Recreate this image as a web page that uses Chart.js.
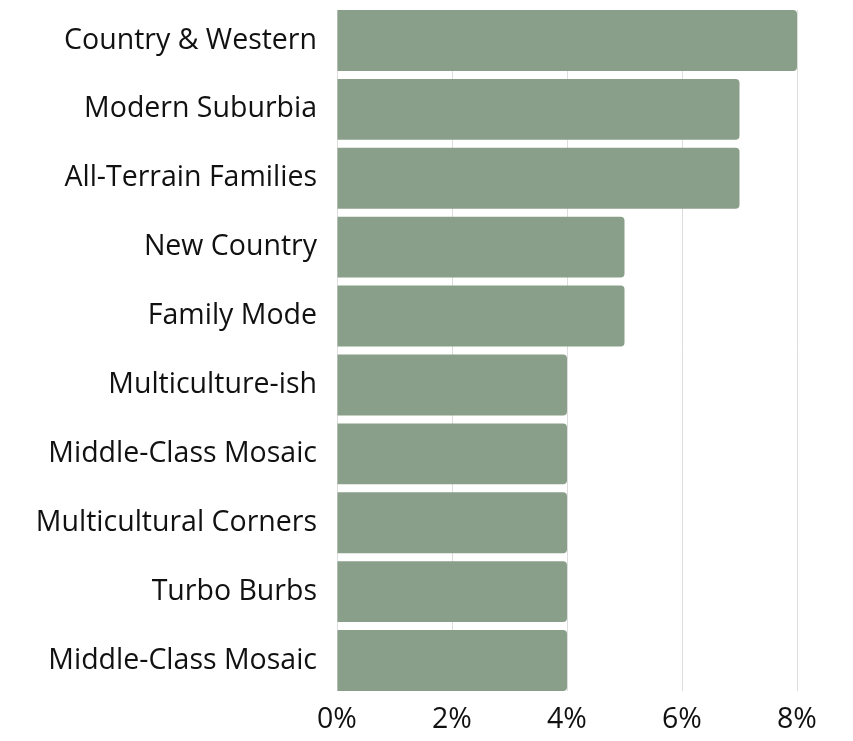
<!DOCTYPE html>
<html>
<head>
<meta charset="utf-8">
<script src="https://cdn.jsdelivr.net/npm/chart.js@4"></script>
<style>
html,body{margin:0;padding:0;background:#fff;}
#wrap{width:853px;height:741px;position:relative;}
</style>
</head>
<body>
<div id="wrap"><canvas id="c" width="853" height="741"></canvas></div>
<script>
const categories = ["Country & Western","Modern Suburbia","All-Terrain Families","New Country","Family Mode","Multiculture-ish","Middle-Class Mosaic","Multicultural Corners","Turbo Burbs","Middle-Class Mosaic"];
const values = [8, 7, 7, 5, 5, 4, 4, 4, 4, 4];
const xTicks = [0, 2, 4, 6, 8];

const points = values.map((v, i) => ({ x: v, y: i }));
const HALF_BAR = 0.442; // bars sit flush with the plot's top and bottom edges

new Chart(document.getElementById('c'), {
  type: 'bar',
  data: {
    datasets: [{
      data: points,
      backgroundColor: '#8a9f89',
      borderRadius: 4,
      borderSkipped: 'start',
      barPercentage: 0.884,
      categoryPercentage: 1
    }]
  },
  options: {
    indexAxis: 'y',
    responsive: false,
    animation: false,
    layout: { padding: { top: 10, right: 56, bottom: 0, left: 0 } },
    plugins: { legend: { display: false }, tooltip: { enabled: false } },
    scales: {
      x: {
        type: 'linear',
        min: 0, max: 8,
        afterBuildTicks: (axis) => { axis.ticks = xTicks.map(v => ({ value: v })); },
        afterFit: (s) => { s.height = 50; s.paddingLeft = 0; s.paddingRight = 0; },
        ticks: {
          callback: (v) => v + '%',
          font: { family: 'Open Sans', size: 28.5 },
          color: '#111111',
          padding: 12,
          maxRotation: 0
        },
        grid: { color: '#dddddd', drawTicks: false, lineWidth: 1 },
        border: { display: false }
      },
      y: {
        type: 'linear',
        offset: false,
        reverse: true,
        min: -HALF_BAR,
        max: categories.length - 1 + HALF_BAR,
        afterBuildTicks: (axis) => { axis.ticks = categories.map((_, i) => ({ value: i })); },
        afterFit: (s) => { s.width = 337; s.paddingTop = 0; s.paddingBottom = 0; },
        ticks: {
          callback: (v) => categories[v],
          font: { family: 'Open Sans', size: 28.5 },
          color: '#111111',
          padding: 20,
          autoSkip: false
        },
        grid: { display: false, drawTicks: false, offset: false },
        border: { display: false }
      }
    }
  }
});
</script>
</body>
</html>
